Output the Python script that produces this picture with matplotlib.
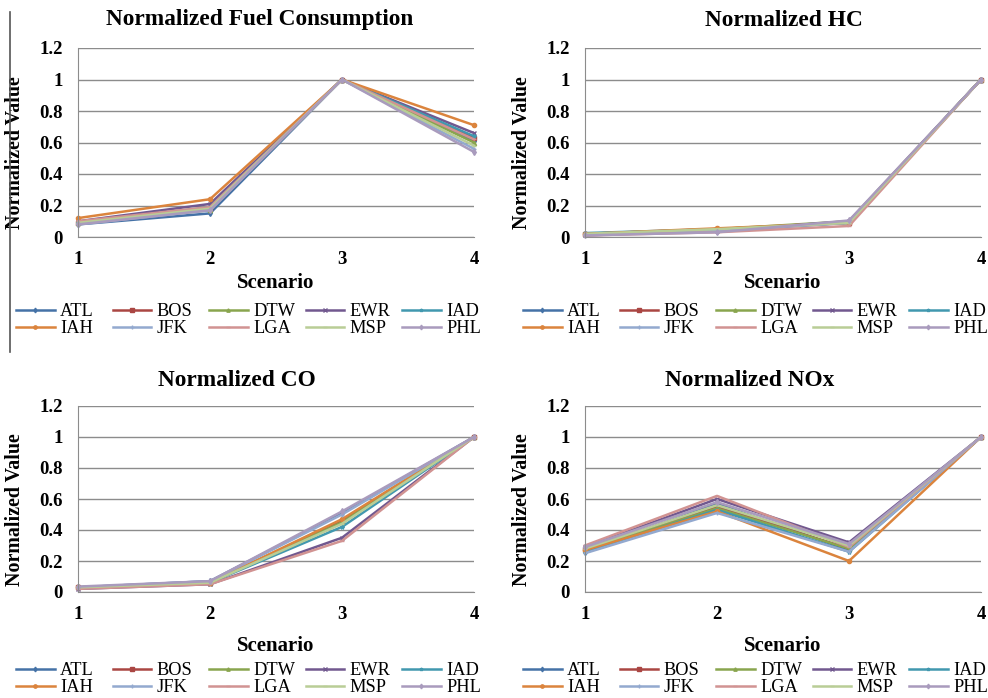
import matplotlib
matplotlib.use("Agg")
import matplotlib.pyplot as plt
from matplotlib.lines import Line2D

plt.rcParams['font.family'] = ['Liberation Serif', 'DejaVu Serif']

W, H = 988, 698

scenarios = [1, 2, 3, 4]
airports = ['ATL', 'BOS', 'DTW', 'EWR', 'IAD', 'IAH', 'JFK', 'LGA', 'MSP', 'PHL']
colors = ['#4572A7', '#AA4643', '#89A54E', '#71588F', '#4198AF',
          '#DB843D', '#93A9CF', '#D19392', '#B9CD96', '#A99BBD']
markers = ['d', 's', '^', 'x', '*', 'o', '+', '_', '_', 'd']

# values per airport, scenarios 1..4
fuel = {
    'ATL': [0.08, 0.15, 1.0, 0.61],
    'BOS': [0.09, 0.18, 1.0, 0.63],
    'DTW': [0.09, 0.17, 1.0, 0.60],
    'EWR': [0.10, 0.21, 1.0, 0.66],
    'IAD': [0.09, 0.19, 1.0, 0.64],
    'IAH': [0.12, 0.24, 1.0, 0.71],
    'JFK': [0.08, 0.17, 1.0, 0.56],
    'LGA': [0.10, 0.19, 1.0, 0.62],
    'MSP': [0.09, 0.18, 1.0, 0.58],
    'PHL': [0.08, 0.17, 1.0, 0.54],
}
hc = {
    'ATL': [0.02, 0.04, 0.09, 1.0],
    'BOS': [0.02, 0.05, 0.09, 1.0],
    'DTW': [0.02, 0.05, 0.10, 1.0],
    'EWR': [0.01, 0.04, 0.10, 1.0],
    'IAD': [0.025, 0.05, 0.09, 1.0],
    'IAH': [0.02, 0.055, 0.09, 1.0],
    'JFK': [0.015, 0.04, 0.09, 1.0],
    'LGA': [0.01, 0.03, 0.07, 1.0],
    'MSP': [0.02, 0.05, 0.09, 1.0],
    'PHL': [0.01, 0.03, 0.105, 1.0],
}
co = {
    'ATL': [0.03, 0.07, 0.51, 1.0],
    'BOS': [0.03, 0.06, 0.46, 1.0],
    'DTW': [0.03, 0.06, 0.45, 1.0],
    'EWR': [0.02, 0.05, 0.35, 1.0],
    'IAD': [0.03, 0.06, 0.42, 1.0],
    'IAH': [0.03, 0.06, 0.47, 1.0],
    'JFK': [0.03, 0.07, 0.50, 1.0],
    'LGA': [0.02, 0.05, 0.33, 1.0],
    'MSP': [0.03, 0.06, 0.44, 1.0],
    'PHL': [0.035, 0.07, 0.52, 1.0],
}
nox = {
    'ATL': [0.26, 0.57, 0.27, 1.0],
    'BOS': [0.28, 0.55, 0.28, 1.0],
    'DTW': [0.27, 0.54, 0.28, 1.0],
    'EWR': [0.29, 0.60, 0.32, 1.0],
    'IAD': [0.26, 0.53, 0.26, 1.0],
    'IAH': [0.27, 0.52, 0.20, 1.0],
    'JFK': [0.25, 0.51, 0.26, 1.0],
    'LGA': [0.30, 0.62, 0.29, 1.0],
    'MSP': [0.28, 0.56, 0.30, 1.0],
    'PHL': [0.29, 0.58, 0.31, 1.0],
}

yticks = [0, 0.2, 0.4, 0.6, 0.8, 1.0, 1.2]
ytick_labels = ['0', '0.2', '0.4', '0.6', '0.8', '1', '1.2']

# panel: data, title, axes box in pixels (left, top, right, bottom), title pos, legend pos
panels = [
    (fuel, 'Normalized Fuel Consumption', (78, 48, 474, 237), (260, 19), (16, 303), -0.19),
    (hc, 'Normalized HC', (585, 48, 981, 237), (784, 21), (523, 303), -0.19),
    (co, 'Normalized CO', (78, 406, 474, 592), (237, 381), (16, 662), -0.236),
    (nox, 'Normalized NOx', (585, 406, 981, 592), (750, 381), (523, 662), -0.236),
]
col_pitch = 96.5  # px between legend columns

fig = plt.figure(figsize=(W / 100, H / 100), dpi=100)

for data, title, box, tpos, lpos, xlab_y in panels:
    l, t, r, b = box
    ax = fig.add_axes([l / W, (H - b) / H, (r - l) / W, (b - t) / H])
    handles = []
    for name, c, m in zip(airports, colors, markers):
        ln, = ax.plot(scenarios, data[name], color=c, lw=1.8, marker=m,
                      markersize=3, markeredgewidth=1, clip_on=False)
        handles.append(ln)
    ax.set_xlim(1, 4)
    ax.set_ylim(0, 1.2)
    ax.set_xticks(scenarios)
    ax.set_yticks(yticks)
    ax.set_yticklabels(ytick_labels)
    ax.tick_params(length=0, labelsize=13.5)
    ax.tick_params(axis='x', pad=10)
    ax.tick_params(axis='y', pad=11)
    for lab in ax.get_xticklabels() + ax.get_yticklabels():
        lab.set_fontweight('bold')
    ax.grid(axis='y', color='#8c8c8c', lw=1)
    ax.set_axisbelow(True)
    for s in ['top', 'right']:
        ax.spines[s].set_visible(False)
    for s in ['left', 'bottom']:
        ax.spines[s].set_color('#8c8c8c')
    ax.set_xlabel('Scenario', fontsize=15, fontweight='bold')
    ax.xaxis.set_label_coords(0.5, xlab_y)
    ax.set_ylabel('Normalized Value', fontsize=14.4, fontweight='bold')
    ax.yaxis.set_label_coords(-0.135, 0.445)
    fig.text(tpos[0] / W, 1 - tpos[1] / H, title, fontsize=16.8,
             fontweight='bold', ha='center', va='center')
    # one small legend per column so all columns share the same pitch
    for k in range(5):
        pair = [k, k + 5]
        fig.legend([handles[i] for i in pair], [airports[i] for i in pair],
                   loc='upper left',
                   bbox_to_anchor=((lpos[0] + k * col_pitch) / W, 1 - lpos[1] / H),
                   frameon=False, fontsize=13.2, handlelength=2.1,
                   handletextpad=0.3, borderpad=0, borderaxespad=0,
                   labelspacing=0.0, markerscale=0.8)

# thin vertical rule at the left of the first panel
fig.add_artist(Line2D([10 / W, 10 / W], [1 - 12 / H, 1 - 352 / H], color='#555555', lw=1.2))

fig.savefig('out.png', dpi=100)
